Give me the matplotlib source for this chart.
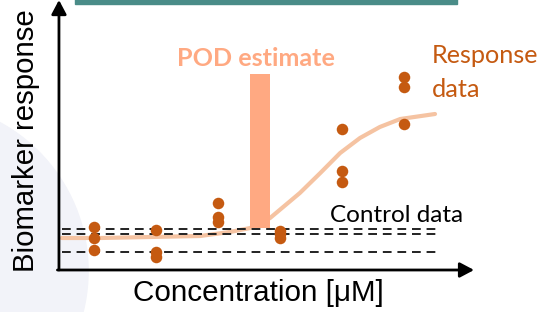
import numpy as np
import matplotlib.pyplot as plt
from matplotlib.patches import Ellipse, Rectangle

# concentration groups (index) and biomarker responses, 3 replicates each
conc = [1, 2, 3, 4, 5, 6]
resp_1 = [4.3, 4.0, 6.7, 3.9, 14.1, 19.3]
resp_2 = [3.2, 1.8, 5.3, 3.6, 9.9, 18.3]
resp_3 = [2.0, 1.3, 4.8, 3.2, 8.8, 14.6]

# fitted concentration-response curve
curve_x = [0.48, 1.10, 1.90, 2.71, 3.19, 3.52, 3.84, 4.32, 4.65, 4.97, 5.29, 5.61, 5.94, 6.50]
curve_y = [3.2, 3.2, 3.3, 3.4, 3.8, 4.2, 5.2, 7.7, 9.7, 11.7, 13.2, 14.3, 15.1, 15.6]

# control data band (dashed lines)
control_levels = [4.1, 3.6, 1.8]

# point of departure estimate
pod_x = 3.68
pod_low, pod_high = 4.2, 19.6

dot_col = '#c55a11'
pod_col = '#ffa982'
curve_col = '#f5c3a2'

fig = plt.figure(figsize=(5.45, 3.12), dpi=100)
ax = fig.add_axes([0, 0, 1, 1])
ax.set_xlim(-0.516, 8.274)
ax.set_ylim(-4.2, 27.0)
ax.axis('off')

# faint background circle + teal header strip
ax.add_patch(Ellipse((-1.82, -0.1), 5.45, 33.8, color='#f2f3f9', zorder=0))
ax.add_patch(Rectangle((0.69, 26.6), 6.16, 2, color='#4a8c88', zorder=1))

# axes with arrows
arrow = dict(arrowstyle='-|>,head_length=0.85,head_width=0.45',
             lw=2, color='black', shrinkA=0, shrinkB=0)
ax.annotate('', xy=(0.435, 27.0), xytext=(0.435, 0), arrowprops=arrow)
ax.annotate('', xy=(7.13, 0), xytext=(0.41, 0), arrowprops=arrow)

for lv in control_levels:
    ax.plot([0.48, 6.53], [lv, lv], color='#222222', lw=1.4, ls=(0, (4.5, 3)), zorder=3)

ax.plot(curve_x, curve_y, color=curve_col, lw=3, solid_capstyle='round', zorder=2)

ax.bar(pod_x, pod_high - pod_low, bottom=pod_low, width=0.32, color=pod_col, zorder=2)

for r in (resp_1, resp_2, resp_3):
    ax.plot(conc, r, 'o', color=dot_col, ms=8.3, mec='none', zorder=4)

calib = ['Lato', 'DejaVu Sans']
sans = ['Liberation Sans', 'DejaVu Sans']
t_pod = ax.text(3.613, 20.4, 'POD estimate', color=pod_col, fontsize=18, fontweight='bold',
                family=calib, ha='center', va='baseline')
t_resp = ax.text(6.452, 20.7, 'Response', color=dot_col, fontsize=18, family=calib,
                 ha='left', va='baseline')
t_data = ax.text(6.452, 17.3, 'data', color=dot_col, fontsize=18, family=calib,
                 ha='left', va='baseline')
t_ctrl = ax.text(4.806, 4.8, 'Control data', color='black', fontsize=18, family=calib,
                 ha='left', va='baseline')
t_xlab = ax.text(1.629, -3.1, 'Concentration [μM]', fontsize=20, family=sans,
                 ha='left', va='baseline')
t_ylab = fig.text(26 / 545, 1 - 141 / 312, 'Biomarker response', fontsize=20, family=sans,
                  rotation=90, ha='center', va='center')

# size the texts to the widths seen in the picture (px)
fig.canvas.draw()
rend = fig.canvas.get_renderer()
for t, w in [(t_pod, 158), (t_resp, 107), (t_ctrl, 133), (t_xlab, 250)]:
    t.set_fontsize(t.get_fontsize() * w / t.get_window_extent(rend).width)
t_data.set_fontsize(t_resp.get_fontsize())
t_ylab.set_fontsize(t_ylab.get_fontsize() * 262 / t_ylab.get_window_extent(rend).height)

fig.savefig('out.png', dpi=100)
